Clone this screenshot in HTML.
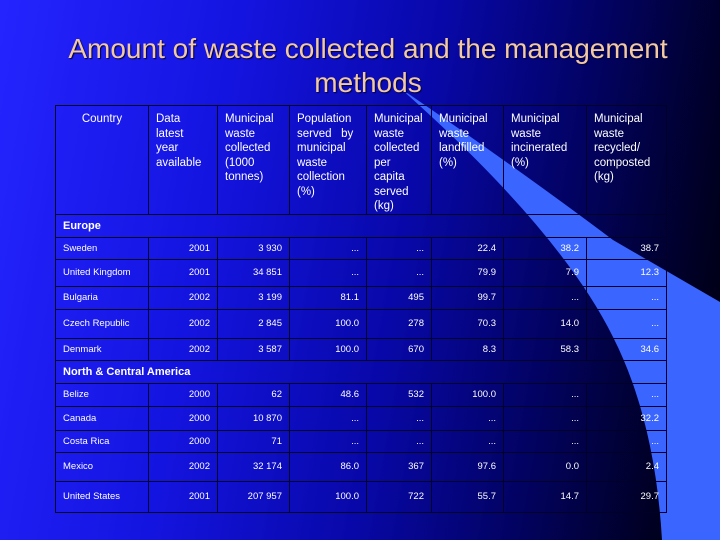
<!DOCTYPE html>
<html><head><meta charset="utf-8"><style>
body{margin:0;width:720px;height:540px;overflow:hidden;position:relative;font-family:"Liberation Sans",Arial,sans-serif;
background:linear-gradient(100deg,#2424ff 0%,#1414e0 30%,#0808a8 55%,#020260 75%,#000020 92%,#000008 100%);}
#swoosh{position:absolute;left:0;top:0}
h1{position:absolute;left:0;top:32px;width:736px;margin:0;text-align:center;font-weight:normal;font-size:28px;line-height:34px;color:#f2c9a0;text-shadow:1px 1px 1px #000040}
table{position:absolute;left:55px;top:105px;border-collapse:collapse;table-layout:fixed;width:611px;color:#fff}
td{border:1px solid #000028;padding:0 7px;font-size:9.5px;text-align:right;vertical-align:middle;overflow:hidden;white-space:nowrap}
td.n{text-align:left}
tr.h td{font-size:11.5px;text-align:left;vertical-align:top;white-space:normal;padding-top:6px;line-height:14.5px}
tr.s td{text-align:left;font-weight:bold;font-size:11px}
</style></head><body>
<svg id="swoosh" width="720" height="540">
<path d="M400 88 Q520 170 613 240 L720 302 L720 540 L662 540 Q655 420 613 337 Q560 230 400 88 Z" fill="#3a66ff"/>
</svg>
<h1>Amount of waste collected and the management<br>methods</h1>
<table>
<colgroup><col style="width:93px"><col style="width:69px"><col style="width:72px"><col style="width:77px"><col style="width:65px"><col style="width:72px"><col style="width:83px"><col style="width:80px"></colgroup>
<tr class="h" style="height:108px">
<td style="text-align:center">Country</td><td>Data<br>latest<br>year<br>available</td><td>Municipal waste collected (1000 tonnes)</td><td>Population served &nbsp;&nbsp;by municipal waste collection (%)</td><td>Municipal waste collected per capita served (kg)</td><td>Municipal waste landfilled (%)</td><td>Municipal waste incinerated (%)</td><td>Municipal waste recycled/ composted (kg)</td></tr>
<tr class="s" style="height:23px"><td colspan="8">Europe</td></tr>
<tr style="height:22px"><td class="n">Sweden</td><td>2001</td><td>3 930</td><td>...</td><td>...</td><td>22.4</td><td>38.2</td><td>38.7</td></tr>
<tr style="height:27px"><td class="n">United Kingdom</td><td>2001</td><td>34 851</td><td>...</td><td>...</td><td>79.9</td><td>7.9</td><td>12.3</td></tr>
<tr style="height:23px"><td class="n">Bulgaria</td><td>2002</td><td>3 199</td><td>81.1</td><td>495</td><td>99.7</td><td>...</td><td>...</td></tr>
<tr style="height:29px"><td class="n">Czech Republic</td><td>2002</td><td>2 845</td><td>100.0</td><td>278</td><td>70.3</td><td>14.0</td><td>...</td></tr>
<tr style="height:22px"><td class="n">Denmark</td><td>2002</td><td>3 587</td><td>100.0</td><td>670</td><td>8.3</td><td>58.3</td><td>34.6</td></tr>
<tr class="s" style="height:23px"><td colspan="8">North &amp; Central America</td></tr>
<tr style="height:23px"><td class="n">Belize</td><td>2000</td><td>62</td><td>48.6</td><td>532</td><td>100.0</td><td>...</td><td>...</td></tr>
<tr style="height:24px"><td class="n">Canada</td><td>2000</td><td>10 870</td><td>...</td><td>...</td><td>...</td><td>...</td><td>32.2</td></tr>
<tr style="height:22px"><td class="n">Costa Rica</td><td>2000</td><td>71</td><td>...</td><td>...</td><td>...</td><td>...</td><td>...</td></tr>
<tr style="height:29px"><td class="n">Mexico</td><td>2002</td><td>32 174</td><td>86.0</td><td>367</td><td>97.6</td><td>0.0</td><td>2.4</td></tr>
<tr style="height:31px"><td class="n">United States</td><td>2001</td><td>207 957</td><td>100.0</td><td>722</td><td>55.7</td><td>14.7</td><td>29.7</td></tr>
</table>
</body></html>
